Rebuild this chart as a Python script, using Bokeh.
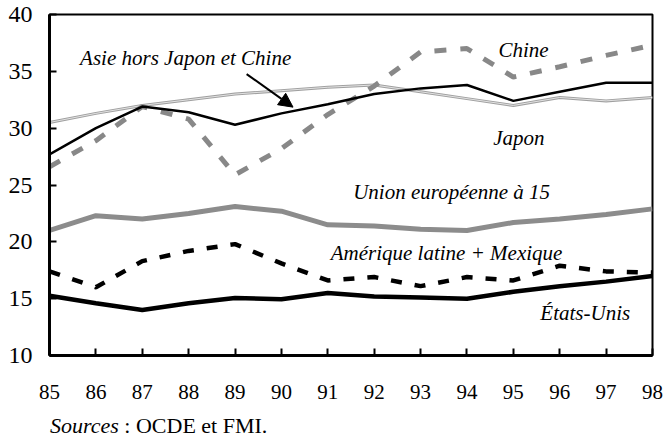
from bokeh.plotting import figure
from bokeh.models import Range1d, FixedTicker, Label, Arrow, NormalHead, Div
from bokeh.layouts import column
from bokeh.embed import file_html
from bokeh.resources import INLINE

years = [85, 86, 87, 88, 89, 90, 91, 92, 93, 94, 95, 96, 97, 98]
asie = [27.7, 30.0, 31.9, 31.4, 30.3, 31.3, 32.1, 33.0, 33.5, 33.8, 32.4, 33.2, 34.0, 34.0]
japon = [30.5, 31.3, 32.0, 32.5, 33.0, 33.3, 33.6, 33.8, 33.2, 32.6, 32.0, 32.7, 32.4, 32.7]
chine = [26.6, 28.9, 31.9, 30.8, 25.9, 28.2, 31.2, 33.7, 36.7, 37.0, 34.5, 35.4, 36.4, 37.3]
ue15 = [21.0, 22.3, 22.0, 22.5, 23.1, 22.7, 21.5, 21.4, 21.1, 21.0, 21.7, 22.0, 22.4, 22.9]
amlat = [17.4, 16.0, 18.3, 19.2, 19.8, 18.1, 16.6, 16.9, 16.1, 16.9, 16.6, 17.9, 17.4, 17.3]
usa = [15.25, 14.6, 14.0, 14.6, 15.05, 14.95, 15.5, 15.2, 15.1, 15.0, 15.6, 16.1, 16.5, 17.0]
y_ticks = [10, 15, 20, 25, 30, 35, 40]
x_tick_labels = {y: str(y) for y in years}

SERIF = "'Liberation Serif', 'Times New Roman', Tinos, 'DejaVu Serif', serif"

p = figure(width=663, height=408, output_backend="svg", toolbar_location=None,
           x_range=Range1d(85, 98), y_range=Range1d(10, 40),
           min_border_left=49, min_border_right=11, min_border_top=14, min_border_bottom=53)
p.grid.visible = False
p.outline_line_color = "black"
p.outline_line_width = 2
p.background_fill_color = "white"
p.border_fill_color = "white"

for ax in (p.xaxis[0], p.yaxis[0]):
    ax.axis_line_width = 3
    ax.axis_line_color = "black"
    ax.major_tick_in = 7
    ax.major_tick_out = 0
    ax.major_tick_line_width = 2
    ax.minor_tick_line_color = None
    ax.major_label_text_font = SERIF
    ax.major_label_text_color = "black"

p.xaxis.ticker = FixedTicker(ticks=years)
p.xaxis.major_label_overrides = x_tick_labels
p.xaxis.major_label_text_font_size = "21px"
p.xaxis.major_label_standoff = 29
p.yaxis.ticker = FixedTicker(ticks=y_ticks)
p.yaxis.major_label_text_font_size = "24px"
p.yaxis.major_label_standoff = 17

# Lines
p.line(years, japon, line_color="#a0a0a0", line_width=3)
p.line(years, japon, line_color="#e2e2e2", line_width=1)
p.line(years, chine, line_color="#888888", line_width=5, line_dash="12 14")
p.line(years, asie, line_color="black", line_width=2.5)
p.line(years, ue15, line_color="#8c8c8c", line_width=5)
p.line(years, amlat, line_color="black", line_width=4.5, line_dash="11 13")
p.line(years, usa, line_color="black", line_width=4.5)

def lab(x, y, text, align="center", style="italic", size="21px"):
    p.add_layout(Label(x=x, y=y, text=text, text_font=SERIF, text_font_style=style,
                       text_font_size=size, text_align=align, text_baseline="middle",
                       text_color="black"))

lab(85.66, 36.2, "Asie hors Japon et Chine", align="left")
lab(95.22, 36.9, "Chine")
lab(95.12, 29.1, "Japon")
lab(93.67, 24.4, "Union européenne à 15")
lab(93.56, 19.0, "Amérique latine + Mexique")
lab(96.55, 13.7, "États-Unis")

p.add_layout(Arrow(end=NormalHead(size=14, fill_color="black", line_color="black"),
                   x_start=89.25, y_start=34.76, x_end=90.25, y_end=31.85,
                   line_width=2, line_color="black"))

source = Div(text="<i>Sources</i> : OCDE et FMI.", width=663, height=25,
             styles={"font-family": SERIF, "font-size": "22px", "color": "black",
                     "padding-left": "45px", "line-height": "25px", "white-space": "nowrap"})

layout = column(p, source, spacing=0)
open("out.html", "w").write(file_html(layout, INLINE))
